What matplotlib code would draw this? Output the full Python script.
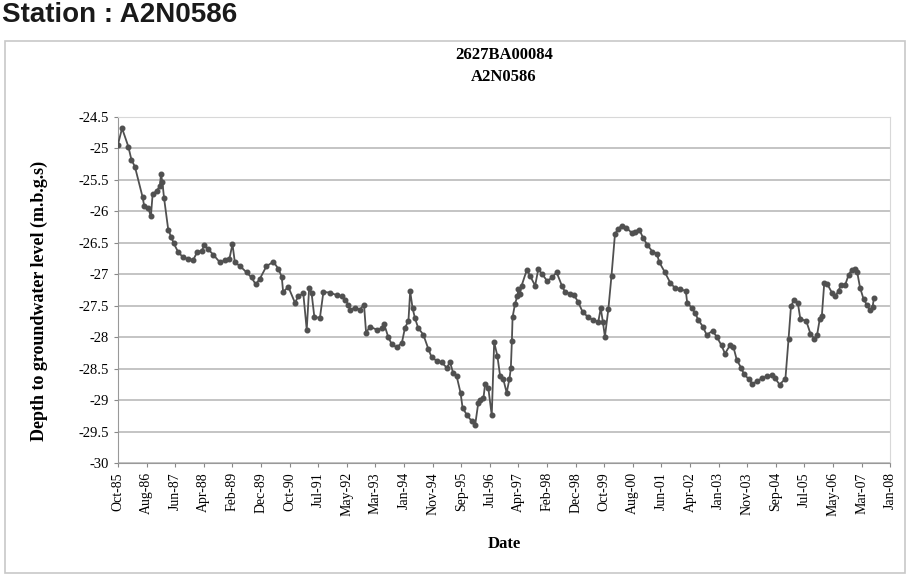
import matplotlib
matplotlib.use("Agg")
import matplotlib.pyplot as plt
import numpy as np
from matplotlib.patches import Rectangle

# groundwater depth readings (decimal year, m below ground surface)
years = [
    1985.75, 1985.87, 1986.05, 1986.14, 1986.24, 1986.46, 1986.51, 1986.62, 1986.70, 1986.75,
    1986.87, 1986.96, 1986.99, 1987.03, 1987.08, 1987.20, 1987.28, 1987.36, 1987.49, 1987.63,
    1987.78, 1987.92, 1988.04, 1988.16, 1988.24, 1988.35, 1988.50, 1988.69, 1988.83, 1988.96,
    1989.05, 1989.12, 1989.27, 1989.46, 1989.60, 1989.72, 1989.84, 1990.03, 1990.23, 1990.37,
    1990.47, 1990.51, 1990.66, 1990.85, 1990.95, 1991.09, 1991.19, 1991.26, 1991.33, 1991.41,
    1991.57, 1991.67, 1991.86, 1992.05, 1992.20, 1992.29, 1992.39, 1992.44, 1992.58, 1992.72,
    1992.84, 1992.90, 1993.01, 1993.21, 1993.35, 1993.42, 1993.54, 1993.64, 1993.78, 1993.93,
    1994.02, 1994.12, 1994.17, 1994.24, 1994.31, 1994.40, 1994.55, 1994.69, 1994.79, 1994.93,
    1995.08, 1995.22, 1995.32, 1995.41, 1995.51, 1995.62, 1995.68, 1995.80, 1995.94, 1996.04,
    1996.13, 1996.18, 1996.28, 1996.33, 1996.42, 1996.52, 1996.59, 1996.68, 1996.76, 1996.85,
    1996.95, 1997.03, 1997.07, 1997.10, 1997.12, 1997.19, 1997.26, 1997.29, 1997.33, 1997.38,
    1997.53, 1997.62, 1997.77, 1997.86, 1997.98, 1998.12, 1998.27, 1998.39, 1998.54, 1998.63,
    1998.78, 1998.89, 1999.01, 1999.14, 1999.30, 1999.45, 1999.59, 1999.66, 1999.72, 1999.78,
    1999.88, 1999.97, 2000.07, 2000.16, 2000.26, 2000.40, 2000.55, 2000.64, 2000.77, 2000.88,
    2001.00, 2001.15, 2001.28, 2001.34, 2001.51, 2001.66, 2001.80, 2001.94, 2002.11, 2002.15,
    2002.28, 2002.37, 2002.47, 2002.60, 2002.71, 2002.88, 2003.00, 2003.14, 2003.24, 2003.39,
    2003.48, 2003.58, 2003.70, 2003.79, 2003.92, 2004.03, 2004.16, 2004.30, 2004.45, 2004.59,
    2004.67, 2004.81, 2004.98, 2005.07, 2005.14, 2005.22, 2005.34, 2005.41, 2005.58, 2005.70,
    2005.81, 2005.89, 2005.97, 2006.03, 2006.10, 2006.19, 2006.32, 2006.42, 2006.51, 2006.58,
    2006.70, 2006.80, 2006.89, 2006.99, 2007.05, 2007.13, 2007.23, 2007.32, 2007.42, 2007.49,
    2007.53,
]
depth = [
    -24.94, -24.68, -24.97, -25.18, -25.29, -25.77, -25.92, -25.94, -26.08, -25.73,
    -25.67, -25.60, -25.41, -25.53, -25.79, -26.29, -26.40, -26.51, -26.65, -26.73,
    -26.76, -26.77, -26.64, -26.63, -26.54, -26.60, -26.69, -26.81, -26.78, -26.76,
    -26.52, -26.81, -26.87, -26.97, -27.05, -27.16, -27.07, -26.87, -26.80, -26.91,
    -27.04, -27.28, -27.20, -27.45, -27.35, -27.30, -27.88, -27.21, -27.30, -27.68,
    -27.69, -27.28, -27.29, -27.33, -27.35, -27.40, -27.48, -27.56, -27.53, -27.56,
    -27.48, -27.93, -27.83, -27.88, -27.86, -27.79, -28.00, -28.11, -28.16, -28.09,
    -27.85, -27.74, -27.27, -27.54, -27.70, -27.85, -27.96, -28.18, -28.32, -28.37,
    -28.40, -28.48, -28.40, -28.57, -28.62, -28.88, -29.12, -29.23, -29.33, -29.40,
    -29.05, -28.99, -28.97, -28.74, -28.80, -29.24, -28.08, -28.29, -28.61, -28.66,
    -28.88, -28.66, -28.49, -28.06, -27.68, -27.47, -27.34, -27.23, -27.31, -27.18,
    -26.93, -27.02, -27.18, -26.92, -27.00, -27.11, -27.04, -26.97, -27.18, -27.28,
    -27.31, -27.33, -27.44, -27.60, -27.68, -27.73, -27.75, -27.54, -27.75, -27.99,
    -27.55, -27.02, -26.36, -26.28, -26.23, -26.26, -26.34, -26.32, -26.29, -26.42,
    -26.53, -26.64, -26.67, -26.80, -26.97, -27.13, -27.22, -27.24, -27.26, -27.45,
    -27.53, -27.61, -27.72, -27.83, -27.96, -27.90, -27.99, -28.13, -28.26, -28.12,
    -28.15, -28.36, -28.48, -28.59, -28.66, -28.74, -28.70, -28.65, -28.62, -28.60,
    -28.64, -28.75, -28.66, -28.03, -27.51, -27.41, -27.46, -27.71, -27.74, -27.94,
    -28.02, -27.97, -27.71, -27.66, -27.13, -27.16, -27.29, -27.35, -27.26, -27.17,
    -27.17, -27.01, -26.93, -26.92, -26.97, -27.21, -27.39, -27.48, -27.57, -27.52,
    -27.38,
]

date_labels = ["Oct-85", "Aug-86", "Jun-87", "Apr-88", "Feb-89", "Dec-89", "Oct-90",
               "Jul-91", "May-92", "Mar-93", "Jan-94", "Nov-94", "Sep-95", "Jul-96",
               "Apr-97", "Feb-98", "Dec-98", "Oct-99", "Aug-00", "Jun-01", "Apr-02",
               "Jan-03", "Nov-03", "Sep-04", "Jul-05", "May-06", "Mar-07", "Jan-08"]
y_ticks = [-24.5, -25, -25.5, -26, -26.5, -27, -27.5, -28, -28.5, -29, -29.5, -30]

serif = "Liberation Serif"

fig = plt.figure(figsize=(9.14, 5.79), dpi=100)
fig.patch.set_facecolor("white")

# chart area frame
fig.patches.append(Rectangle((0.006, 0.01), 0.984, 0.92, transform=fig.transFigure,
                             fill=False, edgecolor="#c8c8c8", lw=1.2))

fig.text(0.002, 0.997, "Station : A2N0586", ha="left", va="top",
         fontsize=20, fontweight="bold", family="Liberation Sans", color="#1a1a1a")

ax = fig.add_axes([0.129, 0.200, 0.845, 0.598])
ax.plot(years, depth, color="#505050", lw=1.3, marker="o", ms=3.3,
        markerfacecolor="#505050", markeredgecolor="#505050", zorder=3)

ax.set_xlim(1985.75, 2008.0)
ax.set_ylim(-30, -24.5)
ax.set_yticks(y_ticks)
ax.set_yticklabels([f"{v:g}" for v in y_ticks], family=serif, fontsize=10.5)
ax.set_xticks(np.linspace(1985.75, 2008.0, len(date_labels)))
ax.set_xticklabels(date_labels, rotation=90, family=serif, fontsize=10)
ax.tick_params(axis="both", direction="out", length=3, color="#888888", width=0.8)

ax.grid(axis="y", color="#c4c4c4", lw=1.4)
ax.set_axisbelow(True)
for side in ["top", "right"]:
    ax.spines[side].set_color("#d8d8d8")
for side in ["left", "bottom"]:
    ax.spines[side].set_color("#999999")

ax.set_ylabel("Depth to groundwater level (m.b.g.s)", family=serif,
              fontsize=13, fontweight="bold")
ax.yaxis.set_label_coords(-0.09, 0.47)
ax.set_xlabel("Date", family=serif, fontsize=12, fontweight="bold", labelpad=14)
ax.set_title("2627BA00084\nA2N0586", family=serif, fontsize=12,
             fontweight="bold", pad=26, linespacing=1.5)

fig.savefig("out.png", dpi=100)
